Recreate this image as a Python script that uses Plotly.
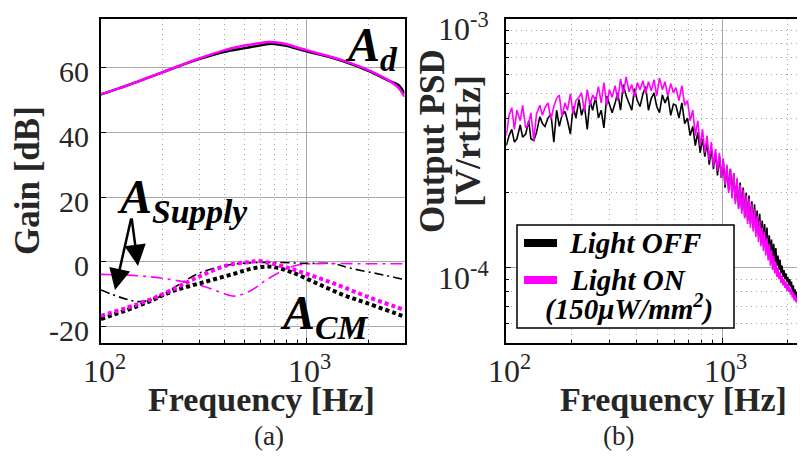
import math
import plotly.graph_objects as go

W, H = 805, 470
OFF = 8  # default page body margin of the html page

# ---------------- Panel (a) data ----------------
ad_freq = [100, 150, 200, 300, 400, 500, 600, 650, 700, 800, 900, 1000, 1200, 1500, 2000, 2500, 2800, 3000]
ad_off = [51.7, 55.6, 58.6, 62.6, 64.9, 66.0, 66.9, 67.3, 67.3, 66.7, 65.8, 65.0, 63.8, 62.0, 59.0, 56.0, 54.6, 52.0]
ad_on = [51.7, 55.6, 58.6, 62.8, 65.4, 66.8, 67.6, 67.9, 67.8, 67.2, 66.2, 65.4, 64.0, 62.2, 59.2, 56.1, 53.8, 51.0]

sup_off_freq = [100, 152, 190, 230, 299, 417, 543, 700, 1000, 1360, 1640, 2380, 2930, 3000]
sup_off = [-8.7, -12.3, -11.0, -7.7, -3.6, -1.0, -0.3, -0.2, -0.5, -0.6, -2.0, -4.1, -5.4, -5.6]
sup_on_freq = [100, 150, 198, 267, 321, 418, 451, 543, 617, 746, 867, 1000, 2000, 3000]
sup_on = [-3.9, -4.3, -5.1, -6.5, -7.7, -10.3, -10.6, -8.7, -6.2, -3.1, -1.3, -0.7, -0.6, -0.6]

cm_off_freq = [100, 164, 221, 321, 451, 543, 667, 836, 1127, 1520, 1977, 2930, 3000]
cm_off = [-17.7, -12.8, -9.2, -6.2, -3.6, -2.1, -1.5, -3.1, -6.7, -10.3, -12.8, -16.7, -16.9]
cm_on_freq = [100, 164, 213, 288, 417, 543, 576, 650, 775, 935, 1360, 1977, 2930, 3000]
cm_on = [-16.7, -12.3, -9.2, -5.1, -1.0, 0.0, 0.3, -0.3, -1.5, -3.1, -6.7, -10.8, -14.7, -15.0]

# ---------------- Panel (b) data (PSD, units of 1e-4 V/rtHz) ----------------
psd_freq_low = [100, 103, 106, 109, 112, 116, 119, 123, 127, 130, 134, 138, 143, 147, 151, 156, 161, 166, 171, 176,
                181, 187, 192, 198, 204, 210, 217, 223, 230, 237, 244, 251, 259, 267, 275, 283, 292, 300, 309, 319,
                328, 338, 348, 359, 370, 381, 392, 404, 416, 429, 442, 455, 469, 483, 497, 512, 528, 543, 560, 577,
                594]
psd_off_low = [3.1, 3.4, 3.6, 3.2, 3.3, 3.75, 3.35, 3.45, 3.9, 3.3, 3.25, 3.5, 4.05, 3.8, 3.7, 4.0, 4.15, 3.2, 4.3, 3.7,
               4.1, 4.25, 3.9, 3.45, 4.45, 4.0, 4.75, 4.1, 4.5, 3.6, 4.7, 4.3, 4.85, 4.0, 4.3, 3.65, 4.9, 4.55, 4.2, 4.6,
               5.05, 4.3, 5.45, 4.9, 4.6, 4.3, 5.25, 4.7, 4.45, 5.0, 5.35, 4.3, 4.8, 5.05, 4.45, 4.2, 4.95, 4.6, 4.9, 4.1,
               4.55]
psd_on_low = [3.4, 4.1, 4.4, 3.6, 4.3, 3.9, 4.5, 3.65, 3.8, 4.2, 3.25, 4.15, 4.5, 4.1, 4.4, 4.6, 3.95, 4.45, 4.8, 4.95,
              4.05, 4.6, 4.3, 5.0, 4.15, 4.7, 4.85, 5.05, 4.25, 5.2, 4.5, 4.95, 4.7, 5.35, 4.6, 5.55, 4.5, 5.2, 4.85, 5.4,
              4.7, 5.75, 5.0, 5.85, 5.1, 5.45, 4.85, 5.55, 5.2, 5.65, 5.0, 5.6, 5.15, 5.7, 4.9, 5.8, 5.2, 5.6, 4.9, 5.5,
              5.05]

psd_freq_high = [610, 630, 650, 670, 690, 710, 730, 750, 770, 790,
                 810, 830, 850, 870, 890, 910, 930, 950, 970, 990,
                 1010, 1030, 1050, 1070, 1090, 1110, 1130, 1150, 1170, 1190,
                 1210, 1230, 1250, 1270, 1290, 1310, 1330, 1350, 1370, 1390,
                 1410, 1430, 1450, 1470, 1490, 1510, 1530, 1550, 1570, 1590,
                 1610, 1630, 1650, 1670, 1690, 1710, 1730, 1750, 1770, 1790,
                 1810, 1830, 1850, 1870, 1890, 1910, 1930, 1950, 1970, 1990,
                 2010, 2030, 2050, 2070, 2090, 2110, 2130, 2150, 2170, 2190,
                 2210, 2230, 2250, 2270, 2290, 2310, 2330, 2350, 2370, 2390,
                 2410, 2430, 2450, 2470, 2490, 2510, 2530, 2550]
psd_off_high = [4.5, 4.0, 4.6, 3.8, 4.0, 3.4, 3.7, 3.1, 3.5, 2.9,
                3.3, 2.8, 3.2, 2.6, 3.0, 2.5, 2.9, 2.35, 2.8, 2.3,
                2.7, 2.1, 2.55, 2.05, 2.5, 1.95, 2.4, 1.85, 2.25, 1.75,
                2.2, 1.7, 2.1, 1.6, 2.0, 1.55, 1.95, 1.5, 1.85, 1.45,
                1.8, 1.4, 1.7, 1.35, 1.65, 1.3, 1.55, 1.25, 1.5, 1.2,
                1.45, 1.15, 1.35, 1.12, 1.3, 1.08, 1.25, 1.05, 1.2, 1.02,
                1.12, 0.98, 1.08, 0.95, 1.02, 0.92, 0.98, 0.9, 0.95, 0.88,
                0.92, 0.85, 0.9, 0.84, 0.88, 0.8, 0.85, 0.78, 0.82, 0.76,
                0.8, 0.72, 0.75, 0.66, 0.61, 0.7, 0.74, 0.71, 0.76, 0.72,
                0.74, 0.73, 0.7, 0.72, 0.69, 0.71, 0.68, 0.7]
psd_on_high = [5.3, 4.7, 5.4, 4.5, 4.7, 3.9, 4.3, 3.4, 3.9, 3.1,
               3.6, 2.9, 3.4, 2.7, 3.2, 2.55, 3.0, 2.45, 2.9, 2.3,
               2.75, 2.15, 2.6, 2.0, 2.5, 1.9, 2.4, 1.8, 2.3, 1.72,
               2.15, 1.65, 2.05, 1.58, 1.95, 1.5, 1.9, 1.45, 1.8, 1.4,
               1.72, 1.33, 1.62, 1.27, 1.55, 1.22, 1.45, 1.17, 1.4, 1.12,
               1.32, 1.07, 1.25, 1.02, 1.18, 0.98, 1.12, 0.95, 1.05, 0.92,
               1.0, 0.9, 0.96, 0.87, 0.93, 0.85, 0.9, 0.83, 0.88, 0.81,
               0.86, 0.8, 0.84, 0.78, 0.82, 0.76, 0.8, 0.74, 0.78, 0.73,
               0.76, 0.72, 0.74, 0.71, 0.73, 0.75, 0.72, 0.76, 0.74, 0.77,
               0.75, 0.76, 0.73, 0.74, 0.72, 0.73, 0.71, 0.72]

psd_freq = psd_freq_low + psd_freq_high
psd_off = [v * 1e-4 for v in psd_off_low + psd_off_high]
psd_on = [v * 1e-4 for v in psd_on_low + psd_on_high]

gain_ticks = [-20, 0, 20, 40, 60]
gain_ticktext = ["-20", "0", "20", "40", "60"]
freq_ticks = [100, 1000]
freq_ticktext = ["10<sup>2</sup>", "10<sup>3</sup>"]
freq_minor = [200, 300, 400, 500, 600, 700, 800, 900, 2000, 3000]
psd_ticks = [1e-4, 1e-3]
psd_ticktext = ["10<sup>-4</sup>", "10<sup>-3</sup>"]
psd_minor = [6e-5, 7e-5, 8e-5, 9e-5, 2e-4, 3e-4, 4e-4, 5e-4, 6e-4, 7e-4, 8e-4, 9e-4]

BLACK = "#000000"
MAG = "#ff00ff"
FONT = "Liberation Serif, Times New Roman, serif"
GRID = "#a8a8a8"
TXT = "#262626"


def px(x):
    return (x - OFF) / W


def py(y):
    return 1 - (y - OFF) / H


fig = go.Figure()

# Panel (a)
fig.add_trace(go.Scatter(x=ad_freq, y=ad_off, mode="lines", line=dict(color=BLACK, width=2.5, shape="spline"),
                         xaxis="x", yaxis="y", showlegend=False))
fig.add_trace(go.Scatter(x=ad_freq, y=ad_on, mode="lines", line=dict(color=MAG, width=2.5, shape="spline"),
                         xaxis="x", yaxis="y", showlegend=False))
fig.add_trace(go.Scatter(x=sup_off_freq, y=sup_off, mode="lines",
                         line=dict(color=BLACK, width=1.6, dash="9px,4px,2px,4px", shape="spline"),
                         xaxis="x", yaxis="y", showlegend=False))
fig.add_trace(go.Scatter(x=sup_on_freq, y=sup_on, mode="lines",
                         line=dict(color=MAG, width=1.6, dash="12px,5px,3px,5px", shape="spline"),
                         xaxis="x", yaxis="y", showlegend=False))
fig.add_trace(go.Scatter(x=cm_off_freq, y=cm_off, mode="lines",
                         line=dict(color=BLACK, width=4, dash="4px,3px", shape="spline"),
                         xaxis="x", yaxis="y", showlegend=False))
fig.add_trace(go.Scatter(x=cm_on_freq, y=cm_on, mode="lines",
                         line=dict(color=MAG, width=4, dash="4px,3px", shape="spline"),
                         xaxis="x", yaxis="y", showlegend=False))

# Panel (b)
fig.add_trace(go.Scatter(x=psd_freq, y=psd_off, mode="lines", line=dict(color=BLACK, width=1.6),
                         xaxis="x2", yaxis="y2", showlegend=False))
fig.add_trace(go.Scatter(x=psd_freq, y=psd_on, mode="lines", line=dict(color=MAG, width=1.6),
                         xaxis="x2", yaxis="y2", showlegend=False))

minor_x = dict(tickvals=freq_minor, ticks="inside", ticklen=3, tickcolor=BLACK,
               showgrid=True, gridcolor=GRID, griddash="1px,4px", gridwidth=1)
common = dict(ticks="inside", ticklen=5, tickcolor=BLACK, automargin=False, showticklabels=False,
              showline=True, linecolor=BLACK, linewidth=1.5, showgrid=True, gridcolor=GRID, gridwidth=1,
              zeroline=False)

fig.update_layout(
    width=W, height=H,
    margin=dict(l=0, r=0, t=0, b=0, autoexpand=False),
    paper_bgcolor="white", plot_bgcolor="white",
    xaxis=dict(domain=[px(101), px(404.5)], type="log", range=[2, 3.4771], tickvals=freq_ticks,
               mirror=True, minor=minor_x, anchor="y", **common),
    yaxis=dict(domain=[py(342.7), py(19)], range=[-25, 75], tickvals=gain_ticks,
               mirror=True, anchor="x", **common),
    xaxis2=dict(domain=[px(506.3), 1.0], type="log", range=[2, 3 + (W + OFF - 722.3) / 216],
                tickvals=freq_ticks, mirror=True, minor=minor_x, anchor="y2", **common),
    yaxis2=dict(domain=[py(342.7), py(19)], type="log", range=[-4.301, -3], tickvals=psd_ticks,
                mirror=False, anchor="x2",
                minor=dict(tickvals=psd_minor, ticks="inside", ticklen=3, tickcolor=BLACK,
                           showgrid=True, gridcolor=GRID, griddash="1px,4px", gridwidth=1),
                **common),
)

ann = []
tick_big = dict(family=FONT, size=32, color=TXT)
tick_num = dict(family=FONT, size=30, color=TXT)
# tick labels (placed from the tick value arrays through the axes)
for v, t in zip(gain_ticks, gain_ticktext):
    ann.append(dict(x=px(91), y=v, xref="paper", yref="y", text=t, showarrow=False, font=tick_num,
                    xanchor="right", yanchor="middle", yshift=-4))
for xr in ("x", "x2"):
    for v, t in zip(freq_ticks, freq_ticktext):
        ann.append(dict(x=math.log10(v), y=py(369), xref=xr, yref="paper", text=t, showarrow=False,
                        font=tick_big, xanchor="center", yanchor="middle", xshift=3))
for v, t in zip(psd_ticks, psd_ticktext):
    ann.append(dict(x=px(491), y=math.log10(v), xref="paper", yref="y2", text=t, showarrow=False,
                    font=tick_big, xanchor="right", yanchor="middle", yshift=-8))

title_font = dict(family=FONT, size=34, color=TXT)
# axis titles
ann.append(dict(x=px(28), y=py(181), xref="paper", yref="paper", text="<b>Gain [dB]</b>", textangle=-90,
                showarrow=False, font=dict(family=FONT, size=35, color=TXT), xanchor="center", yanchor="middle"))
ann.append(dict(x=px(261.5), y=py(399), xref="paper", yref="paper", text="<b>Frequency [Hz]</b>",
                showarrow=False, font=title_font, xanchor="center", yanchor="middle"))
ann.append(dict(x=px(673.5), y=py(399), xref="paper", yref="paper", text="<b>Frequency [Hz]</b>",
                showarrow=False, font=title_font, xanchor="center", yanchor="middle"))
ann.append(dict(x=px(432), y=py(141), xref="paper", yref="paper", text="<b>Output PSD</b>", textangle=-90,
                showarrow=False, font=dict(family=FONT, size=35, color=TXT), xanchor="center", yanchor="middle"))
ann.append(dict(x=px(468), y=py(141), xref="paper", yref="paper", text="<b>[V/rtHz]</b>", textangle=-90,
                showarrow=False, font=dict(family=FONT, size=36, color=TXT), xanchor="center", yanchor="middle"))
# captions
cap_font = dict(family=FONT, size=27, color=TXT)
ann.append(dict(x=px(252), y=py(453), xref="paper", yref="paper", text="(a)", showarrow=False, font=cap_font))
ann.append(dict(x=px(636), y=py(453), xref="paper", yref="paper", text="(b)", showarrow=False, font=cap_font))
# curve labels
lab_font = dict(family=FONT, size=48, color=BLACK)
ann.append(dict(x=px(343), y=py(48), xref="paper", yref="paper", text="<b><i>A<sub>d</sub></i></b>",
                showarrow=False, font=lab_font, xanchor="left", yanchor="middle"))
ann.append(dict(x=px(115), y=py(200), xref="paper", yref="paper", text="<b><i>A<sub>Supply</sub></i></b>",
                showarrow=False, font=lab_font, xanchor="left", yanchor="middle"))
ann.append(dict(x=px(278), y=py(316), xref="paper", yref="paper", text="<b><i>A<sub>CM</sub></i></b>",
                showarrow=False, font=lab_font, xanchor="left", yanchor="middle"))
# arrows
ann.append(dict(x=px(115), y=py(290), xref="paper", yref="paper", text="", showarrow=True,
                ax=16.5, ay=-73, arrowhead=2, arrowsize=1.7, arrowwidth=2.5, arrowcolor=BLACK))
ann.append(dict(x=px(138), y=py(266), xref="paper", yref="paper", text="", showarrow=True,
                ax=-6.5, ay=-49, arrowhead=2, arrowsize=1.7, arrowwidth=2.5, arrowcolor=BLACK))
# legend texts
leg_font = dict(family=FONT, size=29, color=BLACK)
ann.append(dict(x=px(635), y=py(243), xref="paper", yref="paper", text="<b><i>Light OFF</i></b>",
                showarrow=False, font=leg_font, xanchor="center", yanchor="middle"))
ann.append(dict(x=px(628), y=py(280), xref="paper", yref="paper", text="<b><i>Light ON</i></b>",
                showarrow=False, font=leg_font, xanchor="center", yanchor="middle"))
ann.append(dict(x=px(629), y=py(307), xref="paper", yref="paper", text="<b><i>(150μW/mm<sup>2</sup>)</i></b>",
                showarrow=False, font=dict(family=FONT, size=29, color=BLACK), xanchor="center", yanchor="middle"))

shapes = [
    dict(type="rect", xref="paper", yref="paper", x0=px(517), x1=px(734), y0=py(328), y1=py(225),
         fillcolor="white", line=dict(color=BLACK, width=1.5), layer="above"),
    dict(type="line", xref="paper", yref="paper", x0=px(524), x1=px(557), y0=py(243), y1=py(243),
         line=dict(color=BLACK, width=8), layer="above"),
    dict(type="line", xref="paper", yref="paper", x0=px(524), x1=px(557), y0=py(280), y1=py(280),
         line=dict(color=MAG, width=8), layer="above"),
]

fig.update_layout(annotations=ann, shapes=shapes)

fig.write_html("out.html")
